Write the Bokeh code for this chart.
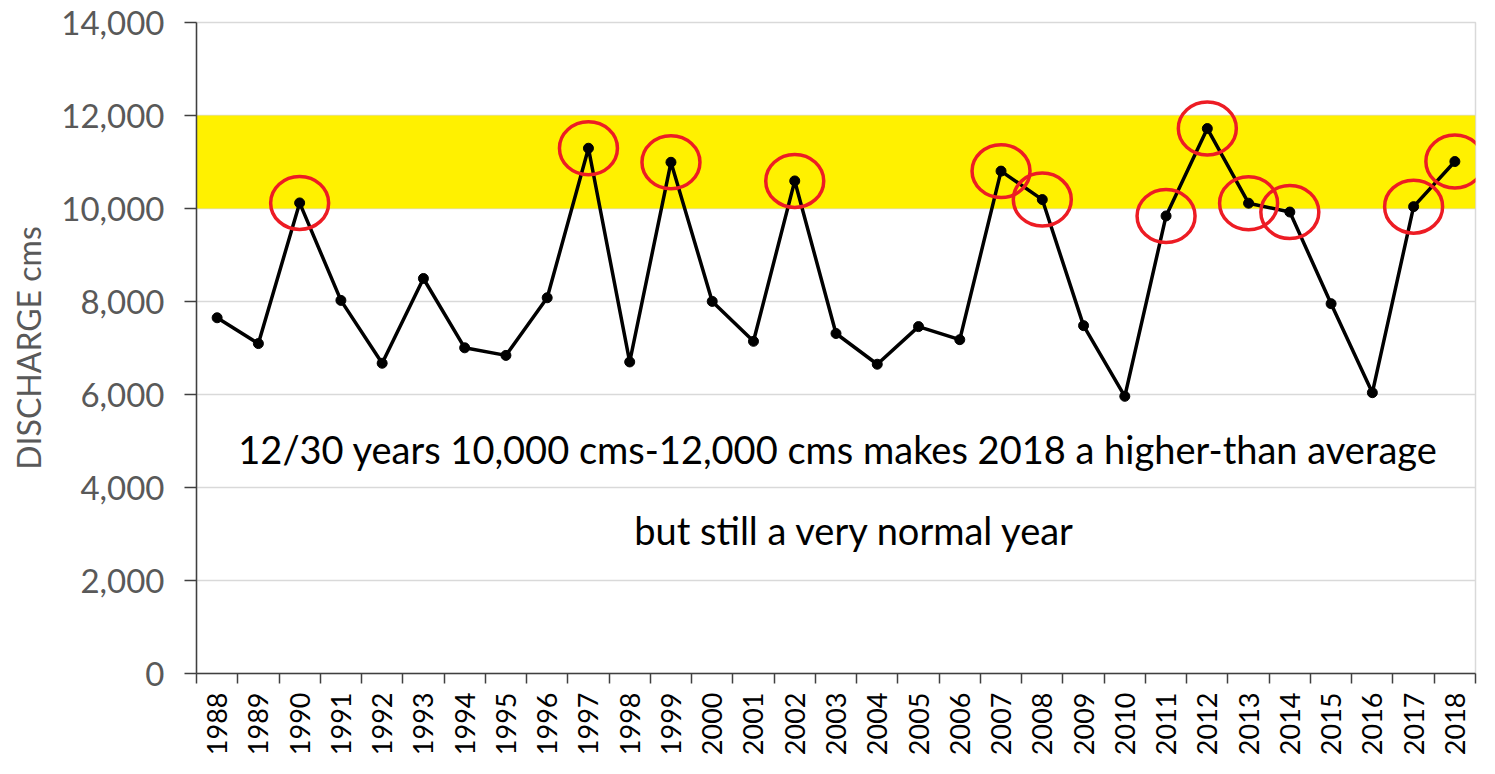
import math
from bokeh.plotting import figure
from bokeh.models import Range1d, FixedTicker, BoxAnnotation, Label, NumeralTickFormatter, ColumnDataSource
from bokeh.embed import file_html
from bokeh.resources import INLINE

# ---- data ----
years = [1988, 1989, 1990, 1991, 1992, 1993, 1994, 1995, 1996, 1997, 1998, 1999,
         2000, 2001, 2002, 2003, 2004, 2005, 2006, 2007, 2008, 2009, 2010, 2011,
         2012, 2013, 2014, 2015, 2016, 2017, 2018]
discharge = [7650, 7095, 10120, 8024, 6672, 8495, 7004, 6841, 8080, 11296, 6700, 10994,
             8002, 7144, 10593, 7312, 6651, 7460, 7179, 10804, 10192, 7481, 5961, 9840,
             11719, 10114, 9924, 7953, 6039, 10040, 11010]
circled_years = [1990, 1997, 1999, 2002, 2007, 2008, 2011, 2012, 2013, 2014, 2017, 2018]
band_low = 10000
band_high = 12000
y_ticks = [0, 2000, 4000, 6000, 8000, 10000, 12000, 14000]
y_title = "DISCHARGE cms"
note_line1 = "12/30 years 10,000 cms-12,000 cms makes 2018 a higher-than average"
note_line2 = "but still a very normal year"

# category centres on a numeric axis (one unit per year)
xc = [i + 0.5 for i in range(len(years))]
src = ColumnDataSource(dict(x=xc, y=discharge))
cx = [xc[years.index(yr)] for yr in circled_years]
cy = [discharge[years.index(yr)] for yr in circled_years]
csrc = ColumnDataSource(dict(x=cx, y=cy))

FONT = "Lato"

p = figure(width=1479, height=758, output_backend="svg", toolbar_location=None,
           x_range=Range1d(0, len(years)), y_range=Range1d(0, 14000),
           min_border_left=196, min_border_right=4, min_border_top=22, min_border_bottom=78)
p.background_fill_color = "white"
p.border_fill_color = "white"
p.outline_line_color = "#d9d9d9"
p.outline_line_width = 1.5

band = BoxAnnotation(bottom=band_low, top=band_high, fill_color="#FFF100", fill_alpha=1.0,
                     line_alpha=0, level="underlay")
p.add_layout(band)

p.line("x", "y", source=src, line_color="black", line_width=3.5)
p.scatter("x", "y", source=src, size=10, color="black")
p.ellipse(x="x", y="y", source=csrc, width=58, height=53,
          width_units="screen", height_units="screen",
          fill_alpha=0, line_color="#ED1C24", line_width=3.5)

# y axis
yax = p.yaxis[0]
yax.ticker = FixedTicker(ticks=y_ticks)
yax.formatter = NumeralTickFormatter(format="0,0")
yax.major_label_text_font = FONT
yax.major_label_text_font_size = "33px"
yax.major_label_text_color = "#595959"
yax.major_tick_out = 12
yax.major_tick_in = 0
yax.minor_tick_out = 0
yax.minor_tick_in = 0
yax.major_label_standoff = 20
yax.axis_line_color = "#404040"
yax.axis_line_width = 1.5
yax.major_tick_line_color = "#404040"
yax.major_tick_line_width = 1.5
yax.axis_label = y_title
yax.axis_label_text_font = FONT
yax.axis_label_text_font_style = "normal"
yax.axis_label_text_font_size = "32px"
yax.axis_label_text_color = "#595959"
yax.axis_label_standoff = 10

# x axis: labels at category centres, ticks between categories
xax = p.xaxis[0]
xax.ticker = FixedTicker(ticks=xc, minor_ticks=list(range(len(years) + 1)))
xax.major_label_overrides = {xc[i]: str(years[i]) for i in range(len(years))}
xax.major_label_orientation = math.pi / 2
xax.major_label_text_font = FONT
xax.major_label_text_font_size = "27px"
xax.major_label_text_color = "black"
xax.major_tick_out = 0
xax.major_tick_in = 0
xax.minor_tick_out = 10
xax.minor_tick_in = 0
xax.minor_tick_line_color = "#404040"
xax.minor_tick_line_width = 1.5
xax.major_label_standoff = 9
xax.axis_line_color = "#404040"
xax.axis_line_width = 1.5

p.xgrid.visible = False
p.ygrid.ticker = FixedTicker(ticks=y_ticks)
p.ygrid.grid_line_color = "#d9d9d9"
p.ygrid.grid_line_width = 1.5

p.add_layout(Label(x=15.55, y=4831, text=note_line1, text_align="center", text_baseline="middle",
                   text_font=FONT, text_font_size="38px", text_color="black"))
p.add_layout(Label(x=15.96, y=3092, text=note_line2, text_align="center", text_baseline="middle",
                   text_font=FONT, text_font_size="38px", text_color="black"))

open("out.html", "w").write(file_html(p, INLINE))
